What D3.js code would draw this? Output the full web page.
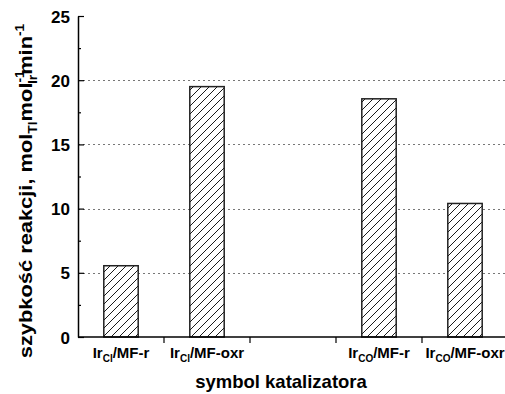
<!DOCTYPE html>
<html>
<head>
<meta charset="utf-8">
<script src="https://cdn.jsdelivr.net/npm/d3@7"></script>
<style>
  body { margin: 0; background: #fff; }
  text { font-family: "Liberation Sans", Arial, sans-serif; font-weight: bold; fill: #000; }
</style>
</head>
<body>
<svg id="chart" width="505" height="394"></svg>
<script>
// label parts: [main, subscript, rest]; empty slot in the middle
var categories = [
  ["Ir", "Cl", "/MF-r"],
  ["Ir", "Cl", "/MF-oxr"],
  null,
  ["Ir", "CO", "/MF-r"],
  ["Ir", "CO", "/MF-oxr"]
];
var rates = [ 5.55, 19.5, null, 18.55, 10.4 ];
var yTicks = [ 0, 5, 10, 15, 20, 25 ];
var yMinorTicks = [ 2.5, 7.5, 12.5, 17.5, 22.5 ];
var gridValues = [ 5, 10, 15, 20 ];

var plotLeft = 78, plotRight = 508, plotTop = 16, plotBottom = 337;

var svg = d3.select("#chart");

var x = d3.scaleBand()
  .domain(d3.range(categories.length))
  .range([plotLeft, plotRight])
  .padding(0);

var y = d3.scaleLinear()
  .domain([0, 25])
  .range([plotBottom, plotTop]);

var barWidth = x.bandwidth() * 0.4;

// hatch pattern
var pat = svg.append("defs").append("pattern")
  .attr("id", "hatch")
  .attr("patternUnits", "userSpaceOnUse")
  .attr("width", 8)
  .attr("height", 8);
pat.append("rect").attr("width", 8).attr("height", 8).attr("fill", "#fff");
pat.append("path")
  .attr("d", "M-2,2 L2,-2 M0,8 L8,0 M6,10 L10,6")
  .attr("stroke", "#000")
  .attr("stroke-width", 0.9);

// grid lines
svg.selectAll(".grid")
  .data(gridValues)
  .enter()
  .append("line")
  .attr("class", "grid")
  .attr("x1", plotLeft)
  .attr("x2", 505)
  .attr("y1", function(d) { return Math.round(y(d)) + 0.5 })
  .attr("y2", function(d) { return Math.round(y(d)) + 0.5 })
  .attr("stroke", "#777")
  .attr("stroke-width", 1)
  .attr("stroke-dasharray", "2,3");

// bars
var barData = rates.map(function(d, i) { return { v: d, i: i } })
  .filter(function(d) { return d.v != null });

svg.selectAll(".bar")
  .data(barData)
  .enter()
  .append("rect")
  .attr("class", "bar")
  .attr("x", function(d) { return x(d.i) + (x.bandwidth() - barWidth) / 2 })
  .attr("y", function(d) { return y(d.v) })
  .attr("width", barWidth)
  .attr("height", function(d) { return y(0) - y(d.v) })
  .attr("fill", "url(#hatch)")
  .attr("stroke", "#222")
  .attr("stroke-width", 1.5);

// y axis
var yAxis = svg.append("g")
  .attr("transform", "translate(" + plotLeft + ",0)")
  .call(d3.axisLeft(y).tickValues(yTicks).tickSize(-6).tickPadding(8).tickSizeOuter(0));
yAxis.select(".domain").attr("stroke", "#000").attr("stroke-width", 1.5);
yAxis.selectAll(".tick line").attr("stroke", "#000").attr("stroke-width", 1.2);
yAxis.selectAll(".tick text").style("font-size", "17px").attr("dy", "0.36em");

svg.append("g")
  .attr("transform", "translate(" + plotLeft + ",0)")
  .call(d3.axisLeft(y).tickValues(yMinorTicks).tickSize(-3).tickFormat("").tickSizeOuter(0))
  .call(function(g) {
    g.select(".domain").remove();
    g.selectAll(".tick line").attr("stroke", "#000").attr("stroke-width", 1.2);
  });

// x axis
svg.append("line")
  .attr("x1", plotLeft).attr("x2", 505)
  .attr("y1", plotBottom).attr("y2", plotBottom)
  .attr("stroke", "#000").attr("stroke-width", 1.5);

svg.selectAll(".xtick")
  .data(d3.range(1, categories.length))
  .enter()
  .append("line")
  .attr("class", "xtick")
  .attr("x1", function(d) { return x(d) })
  .attr("x2", function(d) { return x(d) })
  .attr("y1", plotBottom)
  .attr("y2", plotBottom + 6)
  .attr("stroke", "#000")
  .attr("stroke-width", 1.2);

var labels = svg.selectAll(".xlabel")
  .data(categories.map(function(d, i) { return { c: d, i: i } }).filter(function(d) { return d.c }))
  .enter()
  .append("text")
  .attr("class", "xlabel")
  .attr("x", function(d) { return x(d.i) + x.bandwidth() / 2 })
  .attr("y", 358)
  .attr("text-anchor", "middle")
  .style("font-size", "15px");
labels.append("tspan").text(function(d) { return d.c[0] });
labels.append("tspan").text(function(d) { return d.c[1] })
  .attr("dy", 4).style("font-size", "10px");
labels.append("tspan").text(function(d) { return d.c[2] })
  .attr("dy", -4);

// axis titles
svg.append("text")
  .attr("x", 281)
  .attr("y", 388)
  .attr("text-anchor", "middle")
  .style("font-size", "18.5px")
  .text("symbol katalizatora");

var yt = svg.append("text")
  .attr("transform", "translate(32,191) rotate(-90) scale(1.15,1)")
  .attr("text-anchor", "middle")
  .style("font-size", "19px");
yt.append("tspan").text("szybkość reakcji, mol");
yt.append("tspan").text("Tl").attr("dy", 5).style("font-size", "12px");
yt.append("tspan").text("mol").attr("dy", -5);
yt.append("tspan").text("-1").attr("dy", -8).style("font-size", "12px");
yt.append("tspan").text("Ir").attr("dx", -12).attr("dy", 13).style("font-size", "12px");
yt.append("tspan").text("min").attr("dy", -5);
yt.append("tspan").text("-1").attr("dy", -8).style("font-size", "12px");
</script>
</body>
</html>
